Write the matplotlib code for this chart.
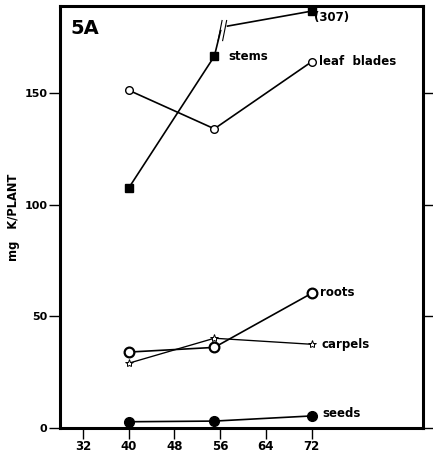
import matplotlib
matplotlib.use("Agg")
import matplotlib.pyplot as plt

plt.rcParams['font.family'] = ['DejaVu Sans']

# Data (age in days vs mg K / plant)
ages = [40, 55, 72]
stems = [107.4, 166.5, 186.7]
leaf_blades = [151.3, 134.0, 164.0]
roots = [34.0, 36.1, 60.3]
carpels = [29.0, 40.2, 37.5]
seeds = [2.8, 3.1, 5.4]

xticks = [32, 40, 48, 56, 64, 72]
yticks = [0, 50, 100, 150]

fig = plt.figure(figsize=(4.33, 4.57), dpi=100)
ax = fig.add_axes([60/433, 1-428/457, (423-60)/433, (428-6)/457])

lw = 1.2
# stems with axis break between 2nd and 3rd point
bx1, by1 = 56.1, 178.0
bx2, by2 = 57.3, 180.0
ax.plot(ages[:2] + [bx1], stems[:2] + [by1], color='black', lw=lw)
ax.plot([bx2, ages[2]], [by2, stems[2]], color='black', lw=lw)
ax.plot(ages, stems, ls='none', marker='s', ms=5.5, color='black')
# break marks
for dx in (0.0, 0.8):
    ax.plot([bx1 - 0.45 + dx, bx1 + 0.25 + dx], [by1 - 4.5, by1 + 4.5], color='black', lw=0.8)

ax.plot(ages, leaf_blades, color='black', lw=lw, marker='o', ms=5.5,
        mfc='white', mec='black', mew=1.0)
ax.plot(ages, roots, color='black', lw=lw, marker='o', ms=7,
        mfc='white', mec='black', mew=1.6)
ax.plot(ages, carpels, color='black', lw=lw * 0.8, marker='*', ms=6,
        mfc='white', mec='black', mew=0.7)
ax.plot(ages, seeds, color='black', lw=lw, marker='o', ms=7)

fs = 8.5
ax.text(57.5, stems[1], 'stems', fontsize=fs, fontweight='bold', va='center')
ax.text(72.4, stems[2] - 2.8, '(307)', fontsize=fs, fontweight='bold', va='center')
ax.text(73.3, leaf_blades[2] + 0.3, 'leaf  blades', fontsize=fs, fontweight='bold', va='center')
ax.text(73.5, roots[2] + 0.5, 'roots', fontsize=fs, fontweight='bold', va='center')
ax.text(73.7, carpels[2], 'carpels', fontsize=fs, fontweight='bold', va='center')
ax.text(73.9, seeds[2] + 1.0, 'seeds', fontsize=fs, fontweight='bold', va='center')
ax.text(0.03, 0.97, '5A', transform=ax.transAxes, fontsize=14, fontweight='bold',
        va='top', ha='left')

ax.set_xlim(28, 91.5)
ax.set_ylim(0, 189)
ax.set_xticks(xticks)
ax.set_xticklabels([str(t) for t in xticks], fontweight='bold', fontsize=8.5)
ax.set_yticks(yticks)
ax.set_yticklabels([str(t) for t in yticks], fontweight='bold', fontsize=8)
ax.tick_params(axis='both', direction='out', length=8, width=1.0, pad=1, right=True)
ax.set_ylabel('mg   K/PLANT', fontweight='bold', fontsize=8.3)
ax.yaxis.set_label_coords((14 - 60) / 363, 0.5)
ax.yaxis.label.set_va('center')
for s in ax.spines.values():
    s.set_linewidth(2.2)

fig.savefig('out.png', dpi=100)
